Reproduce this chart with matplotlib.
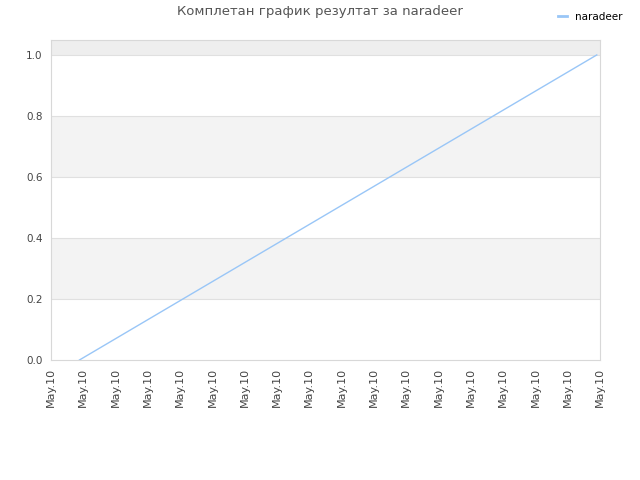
import matplotlib
matplotlib.use("Agg")
import matplotlib.pyplot as plt
from matplotlib.lines import Line2D

title = "Комплетан график резултат за naradeer"
series_name = "naradeer"
tick_labels = ["May.10"] * 18
x_points = [0.88, 16.9]
y_points = [0.0, 1.0]

fig = plt.figure(figsize=(6.4, 4.8), dpi=100)
ax = fig.add_axes([51 / 640, 1 - 360 / 480, 549 / 640, 320 / 480])

ymax = 1.049
ax.set_xlim(0, 17)
ax.set_ylim(0, ymax)

# alternating bands
ax.axhspan(1.0, ymax, color="#eeeeee", zorder=0, lw=0)
for lo in (0.2, 0.6):
    ax.axhspan(lo, lo + 0.2, color="#f3f3f3", zorder=0, lw=0)
for y in (0.2, 0.4, 0.6, 0.8, 1.0):
    ax.axhline(y, color="#e0e0e0", lw=0.8, zorder=1)

ax.plot(x_points, y_points, color="#99c6f7", lw=1, zorder=3)

ax.set_xticks(range(len(tick_labels)))
ax.set_xticklabels(tick_labels, rotation=90, fontsize=8, color="#444444")
ax.set_yticks([0.0, 0.2, 0.4, 0.6, 0.8, 1.0])
ax.set_yticklabels(["0.0", "0.2", "0.4", "0.6", "0.8", "1.0"], fontsize=7.5, color="#444444")
ax.tick_params(length=0, pad=6)
for s in ax.spines.values():
    s.set_color("#d8d8d8")
    s.set_linewidth(0.8)

fig.text(0.5, 1 - 12 / 480, title, ha="center", va="center", fontsize=9.5, color="#555555")
handle = Line2D([], [], color="#99c6f7", lw=2)
fig.legend([handle], [series_name], loc="upper right", bbox_to_anchor=(0.988, 0.995),
           frameon=False, fontsize=7.5, handlelength=0.9, handletextpad=0.8)

fig.savefig("out.png", dpi=100)
